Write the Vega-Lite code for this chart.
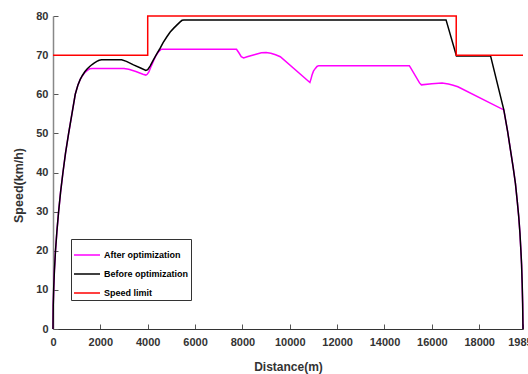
{
  "$schema": "https://vega.github.io/schema/vega-lite/v6.json",
  "width": 470,
  "height": 313,
  "autosize": {"type": "none"},
  "padding": {"left": 53, "top": 16, "right": 5, "bottom": 45},
  "config": {
    "view": {"stroke": null},
    "font": "Liberation Sans"
  },
  "data": {
    "values": [
      {"series": "After optimization", "i": 1, "distance": 0, "speed": 0},
      {"series": "After optimization", "i": 2, "distance": 10, "speed": 6},
      {"series": "After optimization", "i": 3, "distance": 30, "speed": 10.5},
      {"series": "After optimization", "i": 4, "distance": 60, "speed": 15},
      {"series": "After optimization", "i": 5, "distance": 105, "speed": 20},
      {"series": "After optimization", "i": 6, "distance": 165, "speed": 25},
      {"series": "After optimization", "i": 7, "distance": 237, "speed": 30},
      {"series": "After optimization", "i": 8, "distance": 320, "speed": 35},
      {"series": "After optimization", "i": 9, "distance": 420, "speed": 40},
      {"series": "After optimization", "i": 10, "distance": 530, "speed": 45},
      {"series": "After optimization", "i": 11, "distance": 660, "speed": 50},
      {"series": "After optimization", "i": 12, "distance": 800, "speed": 55},
      {"series": "After optimization", "i": 13, "distance": 940, "speed": 60},
      {"series": "After optimization", "i": 14, "distance": 1050, "speed": 62.3},
      {"series": "After optimization", "i": 15, "distance": 1150, "speed": 63.8},
      {"series": "After optimization", "i": 16, "distance": 1240, "speed": 64.7},
      {"series": "After optimization", "i": 17, "distance": 1350, "speed": 65.6},
      {"series": "After optimization", "i": 18, "distance": 1450, "speed": 66.1},
      {"series": "After optimization", "i": 19, "distance": 1550, "speed": 66.5},
      {"series": "After optimization", "i": 20, "distance": 1650, "speed": 66.6},
      {"series": "After optimization", "i": 21, "distance": 3000, "speed": 66.6},
      {"series": "After optimization", "i": 22, "distance": 3200, "speed": 66.4},
      {"series": "After optimization", "i": 23, "distance": 3500, "speed": 65.8},
      {"series": "After optimization", "i": 24, "distance": 3800, "speed": 65.1},
      {"series": "After optimization", "i": 25, "distance": 3920, "speed": 64.9},
      {"series": "After optimization", "i": 26, "distance": 3980, "speed": 65.1},
      {"series": "After optimization", "i": 27, "distance": 4050, "speed": 65.7},
      {"series": "After optimization", "i": 28, "distance": 4150, "speed": 67.2},
      {"series": "After optimization", "i": 29, "distance": 4250, "speed": 68.6},
      {"series": "After optimization", "i": 30, "distance": 4350, "speed": 69.9},
      {"series": "After optimization", "i": 31, "distance": 4450, "speed": 70.8},
      {"series": "After optimization", "i": 32, "distance": 4570, "speed": 71.5},
      {"series": "After optimization", "i": 33, "distance": 7750, "speed": 71.5},
      {"series": "After optimization", "i": 34, "distance": 7850, "speed": 70.6},
      {"series": "After optimization", "i": 35, "distance": 7950, "speed": 69.6},
      {"series": "After optimization", "i": 36, "distance": 8050, "speed": 69.3},
      {"series": "After optimization", "i": 37, "distance": 8200, "speed": 69.6},
      {"series": "After optimization", "i": 38, "distance": 8500, "speed": 70.1},
      {"series": "After optimization", "i": 39, "distance": 8800, "speed": 70.6},
      {"series": "After optimization", "i": 40, "distance": 9000, "speed": 70.7},
      {"series": "After optimization", "i": 41, "distance": 9200, "speed": 70.5},
      {"series": "After optimization", "i": 42, "distance": 9400, "speed": 70.1},
      {"series": "After optimization", "i": 43, "distance": 9600, "speed": 69.6},
      {"series": "After optimization", "i": 44, "distance": 10850, "speed": 63},
      {"series": "After optimization", "i": 45, "distance": 10900, "speed": 64},
      {"series": "After optimization", "i": 46, "distance": 10940, "speed": 64.9},
      {"series": "After optimization", "i": 47, "distance": 11000, "speed": 65.9},
      {"series": "After optimization", "i": 48, "distance": 11080, "speed": 66.6},
      {"series": "After optimization", "i": 49, "distance": 11150, "speed": 67.1},
      {"series": "After optimization", "i": 50, "distance": 11220, "speed": 67.3},
      {"series": "After optimization", "i": 51, "distance": 15050, "speed": 67.3},
      {"series": "After optimization", "i": 52, "distance": 15100, "speed": 66.8},
      {"series": "After optimization", "i": 53, "distance": 15480, "speed": 62.9},
      {"series": "After optimization", "i": 54, "distance": 15560, "speed": 62.4},
      {"series": "After optimization", "i": 55, "distance": 16000, "speed": 62.7},
      {"series": "After optimization", "i": 56, "distance": 16430, "speed": 62.9},
      {"series": "After optimization", "i": 57, "distance": 16700, "speed": 62.6},
      {"series": "After optimization", "i": 58, "distance": 16900, "speed": 62.3},
      {"series": "After optimization", "i": 59, "distance": 17100, "speed": 61.9},
      {"series": "After optimization", "i": 60, "distance": 19040, "speed": 56},
      {"series": "After optimization", "i": 61, "distance": 19200, "speed": 50.5},
      {"series": "After optimization", "i": 62, "distance": 19320, "speed": 45.8},
      {"series": "After optimization", "i": 63, "distance": 19430, "speed": 41.5},
      {"series": "After optimization", "i": 64, "distance": 19530, "speed": 37.2},
      {"series": "After optimization", "i": 65, "distance": 19610, "speed": 32.5},
      {"series": "After optimization", "i": 66, "distance": 19670, "speed": 28.7},
      {"series": "After optimization", "i": 67, "distance": 19720, "speed": 24.6},
      {"series": "After optimization", "i": 68, "distance": 19760, "speed": 20.2},
      {"series": "After optimization", "i": 69, "distance": 19790, "speed": 16.5},
      {"series": "After optimization", "i": 70, "distance": 19815, "speed": 11.7},
      {"series": "After optimization", "i": 71, "distance": 19835, "speed": 6.5},
      {"series": "After optimization", "i": 72, "distance": 19850, "speed": 0},

      {"series": "Before optimization", "i": 1, "distance": 0, "speed": 0},
      {"series": "Before optimization", "i": 2, "distance": 10, "speed": 6},
      {"series": "Before optimization", "i": 3, "distance": 30, "speed": 10.5},
      {"series": "Before optimization", "i": 4, "distance": 60, "speed": 15},
      {"series": "Before optimization", "i": 5, "distance": 105, "speed": 20},
      {"series": "Before optimization", "i": 6, "distance": 165, "speed": 25},
      {"series": "Before optimization", "i": 7, "distance": 237, "speed": 30},
      {"series": "Before optimization", "i": 8, "distance": 320, "speed": 35},
      {"series": "Before optimization", "i": 9, "distance": 420, "speed": 40},
      {"series": "Before optimization", "i": 10, "distance": 530, "speed": 45},
      {"series": "Before optimization", "i": 11, "distance": 660, "speed": 50},
      {"series": "Before optimization", "i": 12, "distance": 800, "speed": 55},
      {"series": "Before optimization", "i": 13, "distance": 940, "speed": 60},
      {"series": "Before optimization", "i": 14, "distance": 1050, "speed": 62.3},
      {"series": "Before optimization", "i": 15, "distance": 1150, "speed": 63.8},
      {"series": "Before optimization", "i": 16, "distance": 1240, "speed": 64.8},
      {"series": "Before optimization", "i": 17, "distance": 1350, "speed": 65.8},
      {"series": "Before optimization", "i": 18, "distance": 1450, "speed": 66.5},
      {"series": "Before optimization", "i": 19, "distance": 1550, "speed": 67.1},
      {"series": "Before optimization", "i": 20, "distance": 1650, "speed": 67.6},
      {"series": "Before optimization", "i": 21, "distance": 1750, "speed": 68.0},
      {"series": "Before optimization", "i": 22, "distance": 1850, "speed": 68.4},
      {"series": "Before optimization", "i": 23, "distance": 1950, "speed": 68.7},
      {"series": "Before optimization", "i": 24, "distance": 2050, "speed": 68.8},
      {"series": "Before optimization", "i": 25, "distance": 2900, "speed": 68.8},
      {"series": "Before optimization", "i": 26, "distance": 3100, "speed": 68.4},
      {"series": "Before optimization", "i": 27, "distance": 3400, "speed": 67.5},
      {"series": "Before optimization", "i": 28, "distance": 3700, "speed": 66.7},
      {"series": "Before optimization", "i": 29, "distance": 3920, "speed": 66.1},
      {"series": "Before optimization", "i": 30, "distance": 4000, "speed": 66.3},
      {"series": "Before optimization", "i": 31, "distance": 4100, "speed": 67.2},
      {"series": "Before optimization", "i": 32, "distance": 4240, "speed": 68.8},
      {"series": "Before optimization", "i": 33, "distance": 4400, "speed": 70.5},
      {"series": "Before optimization", "i": 34, "distance": 4500, "speed": 71.5},
      {"series": "Before optimization", "i": 35, "distance": 4650, "speed": 73.2},
      {"series": "Before optimization", "i": 36, "distance": 4810, "speed": 74.7},
      {"series": "Before optimization", "i": 37, "distance": 4950, "speed": 75.9},
      {"series": "Before optimization", "i": 38, "distance": 5100, "speed": 76.9},
      {"series": "Before optimization", "i": 39, "distance": 5250, "speed": 77.8},
      {"series": "Before optimization", "i": 40, "distance": 5370, "speed": 78.5},
      {"series": "Before optimization", "i": 41, "distance": 5450, "speed": 78.9},
      {"series": "Before optimization", "i": 42, "distance": 5530, "speed": 79},
      {"series": "Before optimization", "i": 43, "distance": 16600, "speed": 79},
      {"series": "Before optimization", "i": 44, "distance": 17040, "speed": 69.8},
      {"series": "Before optimization", "i": 45, "distance": 18480, "speed": 69.8},
      {"series": "Before optimization", "i": 46, "distance": 19040, "speed": 56},
      {"series": "Before optimization", "i": 47, "distance": 19200, "speed": 50.5},
      {"series": "Before optimization", "i": 48, "distance": 19320, "speed": 45.8},
      {"series": "Before optimization", "i": 49, "distance": 19430, "speed": 41.5},
      {"series": "Before optimization", "i": 50, "distance": 19530, "speed": 37.2},
      {"series": "Before optimization", "i": 51, "distance": 19610, "speed": 32.5},
      {"series": "Before optimization", "i": 52, "distance": 19670, "speed": 28.7},
      {"series": "Before optimization", "i": 53, "distance": 19720, "speed": 24.6},
      {"series": "Before optimization", "i": 54, "distance": 19760, "speed": 20.2},
      {"series": "Before optimization", "i": 55, "distance": 19790, "speed": 16.5},
      {"series": "Before optimization", "i": 56, "distance": 19815, "speed": 11.7},
      {"series": "Before optimization", "i": 57, "distance": 19835, "speed": 6.5},
      {"series": "Before optimization", "i": 58, "distance": 19850, "speed": 0},

      {"series": "Speed limit", "i": 1, "distance": 0, "speed": 70},
      {"series": "Speed limit", "i": 2, "distance": 4000, "speed": 70},
      {"series": "Speed limit", "i": 3, "distance": 4000, "speed": 80},
      {"series": "Speed limit", "i": 4, "distance": 17030, "speed": 80},
      {"series": "Speed limit", "i": 5, "distance": 17030, "speed": 70},
      {"series": "Speed limit", "i": 6, "distance": 19850, "speed": 70}
    ]
  },
  "mark": {"type": "line", "strokeWidth": 1.5},
  "encoding": {
    "x": {
      "field": "distance",
      "type": "quantitative",
      "scale": {"domain": [0, 19850], "nice": false, "zero": false},
      "axis": {
        "title": "Distance(m)",
        "values": [0, 2000, 4000, 6000, 8000, 10000, 12000, 14000, 16000, 18000, 19850],
        "format": "d",
        "grid": false,
        "domainColor": "#333333",
        "domainWidth": 1.2,
        "tickColor": "#555555",
        "tickSize": -5,
        "labelPadding": 12,
        "labelFontSize": 11,
        "labelFontWeight": "bold",
        "labelColor": "#333333",
        "labelFlush": false,
        "labelOverlap": false,
        "titleFontSize": 12,
        "titleFontWeight": "bold",
        "titleColor": "#333333",
        "titlePadding": 14
      }
    },
    "y": {
      "field": "speed",
      "type": "quantitative",
      "scale": {"domain": [0, 80], "nice": false},
      "axis": {
        "title": "Speed(km/h)",
        "values": [0, 10, 20, 30, 40, 50, 60, 70, 80],
        "grid": false,
        "domainColor": "#888888",
        "domainWidth": 1.5,
        "tickColor": "#555555",
        "tickSize": -5,
        "labelPadding": 10,
        "labelFontSize": 11,
        "labelFontWeight": "bold",
        "labelColor": "#333333",
        "labelFlush": false,
        "titleFontSize": 12.5,
        "titleFontWeight": "bold",
        "titleColor": "#333333",
        "titleX": -35,
        "titleY": 169,
        "titleBaseline": "middle",
        "titleAlign": "center"
      }
    },
    "color": {
      "field": "series",
      "type": "nominal",
      "scale": {
        "domain": ["After optimization", "Before optimization", "Speed limit"],
        "range": ["#ff00ff", "#000000", "#ff0000"]
      },
      "legend": {
        "title": null,
        "orient": "none",
        "legendX": 18,
        "legendY": 223,
        "symbolType": "stroke",
        "symbolSize": 676,
        "symbolStrokeWidth": 1.5,
        "labelFontSize": 9,
        "labelFontWeight": "bold",
        "labelColor": "#000000",
        "labelOffset": 3,
        "rowPadding": -6,
        "padding": 2,
        "strokeColor": "#333333",
        "fillColor": "#ffffff"
      }
    },
    "order": {"field": "i", "type": "quantitative"}
  }
}
